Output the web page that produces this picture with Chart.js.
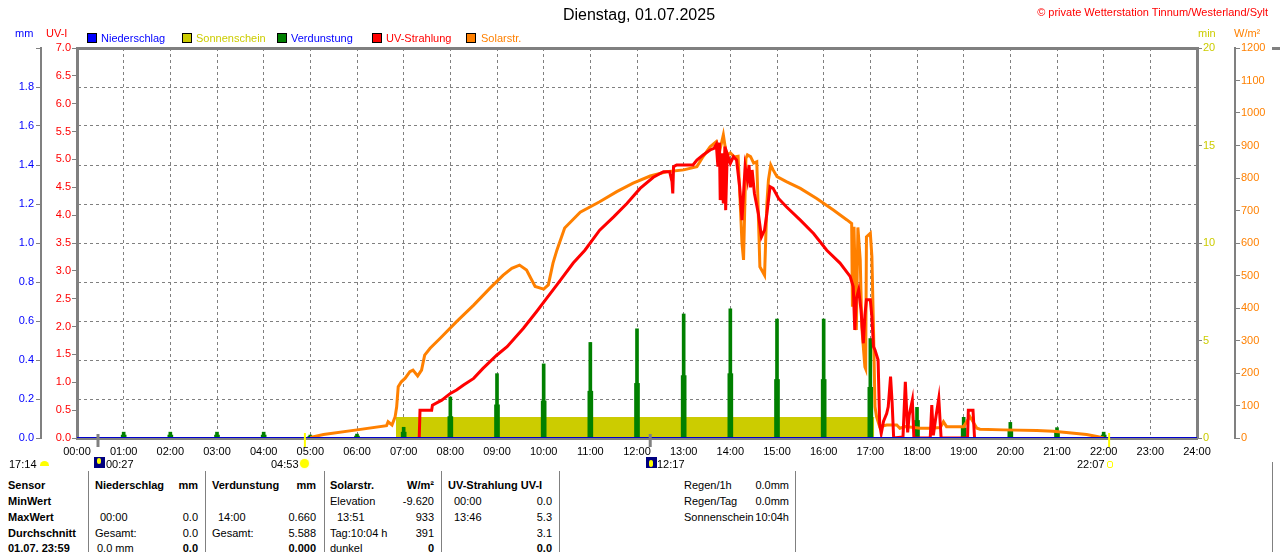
<!DOCTYPE html>
<html lang="de">
<head>
  <meta charset="UTF-8">
  <title>Dienstag, 01.07.2025</title>
  <script src="https://cdn.jsdelivr.net/npm/chart.js@4"></script>
  <style>
    body {
      margin: 0;
      background: #fff;
      font-family: "Liberation Sans", Arial, sans-serif;
      font-size: 11px;
    }
    #wrap {
      position: relative;
      width: 1280px;
      height: 552px;
      overflow: hidden;
    }
    #chart {
      position: absolute;
      left: 0;
      top: 0;
    }
    .t {
      position: absolute;
      white-space: nowrap;
      line-height: 14px;
    }
    .b { font-weight: bold; }
    .box {
      position: absolute;
      width: 8px;
      height: 8px;
      border: 1px solid #000;
    }
    .vl {
      position: absolute;
      top: 471px;
      width: 1px;
      height: 81px;
      background: #808080;
    }
  </style>
</head>
<body>
<div id="wrap">
  <canvas id="chart" width="1280" height="470"></canvas>

  <span class="t" style="left:0;width:1278px;text-align:center;top:6px;font-size:16px;line-height:18px">Dienstag, 01.07.2025</span>
  <span class="t" style="right:12px;top:5px;color:#ff0000">© private Wetterstation Tinnum/Westerland/Sylt</span>

  <span class="t" style="left:15px;top:26px;color:#0000ff">mm</span>
  <span class="t" style="left:46px;top:26px;color:#ff0000">UV-I</span>
  <span class="t" style="left:1198px;top:26px;color:#cccc00">min</span>
  <span class="t" style="left:1234px;top:26px;color:#ff8000">W/m²</span>

  <div class="box" style="left:87px;top:33px;background:#0000ff"></div>
  <span class="t" style="left:101px;top:31px;color:#0000ff">Niederschlag</span>
  <div class="box" style="left:182px;top:33px;background:#cccc00"></div>
  <span class="t" style="left:196px;top:31px;color:#cccc00">Sonnenschein</span>
  <div class="box" style="left:277px;top:33px;background:#008000"></div>
  <span class="t" style="left:291px;top:31px;color:#0000ff">Verdunstung</span>
  <div class="box" style="left:372px;top:33px;background:#ff0000"></div>
  <span class="t" style="left:386px;top:31px;color:#ff0000">UV-Strahlung</span>
  <div class="box" style="left:466px;top:33px;background:#ff8000"></div>
  <span class="t" style="left:481px;top:31px;color:#ff8000">Solarstr.</span>

  <!-- Mond / Sonne unter der Zeitachse -->
  <span class="t" style="left:9px;top:457px">17:14</span>
  <div style="position:absolute;left:40px;top:461px;width:9px;height:5px;background:#ffff00;border-radius:5px 5px 0 0"></div>
  <div style="position:absolute;left:94px;top:457px;width:11px;height:11px;background:#000080"></div>
  <div style="position:absolute;left:97px;top:458px;width:4px;height:6px;background:#ffff00;border-radius:2px"></div>
  <span class="t" style="left:106px;top:457px">00:27</span>
  <span class="t" style="left:271px;top:457px">04:53</span>
  <div style="position:absolute;left:300px;top:459px;width:9px;height:9px;background:#ffff00;border-radius:50%;box-shadow:0 0 2px #ffff80"></div>
  <div style="position:absolute;left:646px;top:457px;width:11px;height:11px;background:#000080"></div>
  <div style="position:absolute;left:649px;top:460px;width:4px;height:7px;background:#ffff00;border-radius:2px"></div>
  <span class="t" style="left:657px;top:457px">12:17</span>
  <span class="t" style="left:1077px;top:457px">22:07</span>
  <div style="position:absolute;left:1107px;top:461px;width:4px;height:5px;border:1px solid #ffff00;border-radius:2px"></div>

  <!-- Tabelle -->
  <div class="vl" style="left:88px"></div>
  <div class="vl" style="left:205px"></div>
  <div class="vl" style="left:324px"></div>
  <div class="vl" style="left:441px"></div>
  <div class="vl" style="left:559px"></div>
  <div class="vl" style="left:795px"></div>

  <span class="t b" style="left:8px;top:478px">Sensor</span>
  <span class="t b" style="left:95px;top:478px">Niederschlag</span>
  <span class="t b" style="right:1082px;top:478px">mm</span>
  <span class="t b" style="left:212px;top:478px">Verdunstung</span>
  <span class="t b" style="right:964px;top:478px">mm</span>
  <span class="t b" style="left:330px;top:478px">Solarstr.</span>
  <span class="t b" style="right:846px;top:478px">W/m²</span>
  <span class="t b" style="left:448px;top:478px">UV-Strahlung UV-I</span>
  <span class="t" style="left:684px;top:478px">Regen/1h</span>
  <span class="t" style="right:491px;top:478px">0.0mm</span>

  <span class="t b" style="left:8px;top:494px">MinWert</span>
  <span class="t" style="left:330px;top:494px">Elevation</span>
  <span class="t" style="right:846px;top:494px">-9.620</span>
  <span class="t" style="left:454px;top:494px">00:00</span>
  <span class="t" style="right:728px;top:494px">0.0</span>
  <span class="t" style="left:684px;top:494px">Regen/Tag</span>
  <span class="t" style="right:491px;top:494px">0.0mm</span>

  <span class="t b" style="left:8px;top:510px">MaxWert</span>
  <span class="t" style="left:100px;top:510px">00:00</span>
  <span class="t" style="right:1082px;top:510px">0.0</span>
  <span class="t" style="left:218px;top:510px">14:00</span>
  <span class="t" style="right:964px;top:510px">0.660</span>
  <span class="t" style="left:337px;top:510px">13:51</span>
  <span class="t" style="right:846px;top:510px">933</span>
  <span class="t" style="left:454px;top:510px">13:46</span>
  <span class="t" style="right:728px;top:510px">5.3</span>
  <span class="t" style="left:684px;top:510px">Sonnenschein</span>
  <span class="t" style="right:491px;top:510px">10:04h</span>

  <span class="t b" style="left:8px;top:526px">Durchschnitt</span>
  <span class="t" style="left:95px;top:526px">Gesamt:</span>
  <span class="t" style="right:1082px;top:526px">0.0</span>
  <span class="t" style="left:212px;top:526px">Gesamt:</span>
  <span class="t" style="right:964px;top:526px">5.588</span>
  <span class="t" style="left:330px;top:526px">Tag:10:04 h</span>
  <span class="t" style="right:846px;top:526px">391</span>
  <span class="t" style="right:728px;top:526px">3.1</span>

  <span class="t b" style="left:8px;top:541px">01.07. 23:59</span>
  <span class="t" style="left:97px;top:541px">0.0 mm</span>
  <span class="t b" style="right:1082px;top:541px">0.0</span>
  <span class="t b" style="right:964px;top:541px">0.000</span>
  <span class="t" style="left:330px;top:541px">dunkel</span>
  <span class="t b" style="right:846px;top:541px">0</span>
  <span class="t b" style="right:728px;top:541px">0.0</span>

  <!-- Rand des Nachbarbildes -->
  <div style="position:absolute;left:1272px;top:47px;width:8px;height:3px;background:#808080"></div>
  <div style="position:absolute;left:1272px;top:462px;width:1px;height:90px;background:#808080"></div>
</div>

<script>
// Zeit in Minuten seit Mitternacht
const solarT = [300, 317, 360, 398, 400, 405, 409, 411, 413, 417, 422, 428, 432, 438, 443, 447, 454, 467, 488, 510,
  531, 548, 559, 569, 578, 589, 600, 606, 612, 617, 627, 647, 672, 694, 715, 737, 758, 780, 797, 805,
  814, 822, 826, 831, 835, 840, 845, 850, 855, 857, 860, 862, 866, 870, 874, 878, 884, 887, 889, 892,
  895, 900, 912, 930, 951, 972, 990, 996, 997, 999, 1002, 1004, 1007, 1009, 1013, 1014, 1015, 1020, 1022, 1024,
  1026, 1028, 1032, 1041, 1054, 1058, 1065, 1084, 1097, 1110, 1114, 1118, 1127, 1140, 1148, 1157, 1161, 1191, 1234, 1255,
  1272, 1298, 1313, 1320];
const solarW = [2, 11, 25, 38, 50, 40, 65, 96, 158, 173, 184, 204, 209, 191, 209, 255, 276, 307, 358, 409,
  461, 501, 522, 532, 517, 466, 458, 471, 538, 578, 646, 695, 727, 758, 784, 806, 819, 825, 835, 866,
  896, 912, 880, 933, 870, 877, 865, 867, 599, 548, 860, 871, 866, 846, 850, 527, 501, 722, 794, 840,
  825, 804, 789, 768, 737, 702, 671, 660, 404, 650, 332, 648, 548, 342, 219, 213, 619, 630, 558, 342,
  96, 66, 35, 40, 40, 30, 35, 30, 30, 32, 50, 35, 35, 35, 66, 30, 27, 25, 23, 21,
  17, 11, 4, 0];

const uvT = [440, 441, 456, 457, 469, 480, 488, 497, 510, 522, 540, 553, 574, 591, 604, 617, 638, 653, 672, 690,
  707, 724, 741, 754, 762, 765, 766, 767, 771, 792, 797, 805, 814, 819, 822, 824, 826, 827, 829, 831,
  833, 834, 836, 840, 844, 848, 852, 855, 857, 859, 862, 864, 866, 868, 871, 876, 880, 884, 887, 891,
  895, 902, 912, 930, 947, 964, 981, 994, 998, 1000, 1002, 1005, 1008, 1011, 1013, 1015, 1020, 1022, 1024, 1026,
  1030, 1032, 1034, 1037, 1041, 1043, 1046, 1048, 1050, 1062, 1065, 1068, 1070, 1074, 1076, 1097, 1099, 1101, 1104, 1108,
  1111, 1145, 1146, 1152, 1154];
const uvI = [0, 0.5, 0.5, 0.59, 0.68, 0.80, 0.86, 0.95, 1.07, 1.25, 1.49, 1.64, 1.97, 2.27, 2.51, 2.75, 3.14, 3.37, 3.73, 3.97,
  4.21, 4.48, 4.68, 4.78, 4.78, 4.6, 4.39, 4.87, 4.90, 4.90, 4.99, 5.08, 5.17, 5.2, 5.27, 4.87, 5.3, 4.27, 5.11, 4.21,
  5.23, 4.09, 5.1, 4.93, 5.05, 4.99, 4.51, 3.91, 4.39, 4.87, 4.63, 4.9, 4.5, 4.81, 4.39, 4.03, 3.61, 3.73, 4.03, 4.51,
  4.48, 4.30, 4.15, 3.91, 3.67, 3.37, 3.14, 2.90, 2.72, 1.94, 2.5, 2.66, 2.30, 1.70, 2.2, 2.48, 2.48, 2.18, 1.64, 1.58,
  1.40, 0.25, 0.08, 0.3, 0.44, 0.56, 1.10, 0.64, 0, 0.02, 1.01, 0.1, 0.41, 0.68, 0, 0, 0.59, 0.05, 0.35, 0.71,
  0, 0, 0.50, 0.50, 0];

// Verdunstung je volle Stunde
const evapHour = [1, 2, 3, 4, 5, 6, 7, 8, 9, 10, 11, 12, 13, 14, 15, 16, 17, 18, 19, 20, 21, 22];
const evapMM = [0.03, 0.03, 0.03, 0.03, 0.015, 0.02, 0.055, 0.21, 0.33, 0.38, 0.49, 0.56, 0.636, 0.662, 0.61, 0.61, 0.51, 0.157, 0.106, 0.08, 0.053, 0.03];
const evapBaseMM = [0.015, 0.015, 0.015, 0.015, 0.008, 0.01, 0.03, 0.11, 0.17, 0.19, 0.24, 0.28, 0.32, 0.33, 0.30, 0.30, 0.26, 0.09, 0.05, 0.04, 0.03, 0.015];

const sunT = [410, 1025];
const sunMin = [1.05, 1.05];

const rainT = [0, 1440];
const rainMM = [0, 0];

// Mond- und Sonnenauf-/untergang
const moonT = [27, 737];
const sunEventT = [293, 1327];

const pts = (xs, ys) => xs.map((x, i) => ({ x: x, y: ys[i] }));
const gray = '#808080';

Chart.defaults.font.family = '"Liberation Sans", Arial, sans-serif';
Chart.defaults.font.size = 11;

const markers = {
  id: 'markers',
  afterDraw(chart) {
    const ctx = chart.ctx;
    const x = chart.scales.x;
    const bottom = chart.chartArea.bottom;
    ctx.save();
    moonT.forEach(t => {
      ctx.strokeStyle = gray;
      ctx.lineWidth = 3;
      ctx.beginPath();
      ctx.moveTo(x.getPixelForValue(t), bottom - 4);
      ctx.lineTo(x.getPixelForValue(t), bottom + 9);
      ctx.stroke();
    });
    sunEventT.forEach(t => {
      ctx.strokeStyle = '#ffff00';
      ctx.lineWidth = 2;
      ctx.beginPath();
      ctx.moveTo(x.getPixelForValue(t), bottom - 5);
      ctx.lineTo(x.getPixelForValue(t), bottom + 9);
      ctx.stroke();
    });
    ctx.restore();
  }
};

new Chart(document.getElementById('chart'), {
  type: 'line',
  data: {
    datasets: [
      { label: 'Niederschlag', data: pts(rainT, rainMM), yAxisID: 'yMM', borderColor: '#0000cc', borderWidth: 2, pointRadius: 0, order: 0 },
      { label: 'UV-Strahlung', data: pts(uvT, uvI), yAxisID: 'yUV', borderColor: '#ff0000', borderWidth: 3, pointRadius: 0, order: 1 },
      { label: 'Solarstr.', data: pts(solarT, solarW), yAxisID: 'ySolar', borderColor: '#ff8000', borderWidth: 3, pointRadius: 0, order: 2 },
      { type: 'bar', label: 'Verdunstung', data: pts(evapHour.map(h => h * 60), evapMM), yAxisID: 'yMM',
        backgroundColor: '#008000', barThickness: 3, grouped: false, order: 3 },
      { type: 'bar', label: 'Verdunstung ', data: pts(evapHour.map(h => h * 60), evapBaseMM), yAxisID: 'yMM',
        backgroundColor: '#008000', barThickness: 5, grouped: false, order: 4 },
      { label: 'Sonnenschein', data: pts(sunT, sunMin), yAxisID: 'ySun', borderColor: '#cccc00', borderWidth: 1,
        backgroundColor: '#cccc00', fill: 'origin', pointRadius: 0, order: 5 }
    ]
  },
  options: {
    responsive: false,
    animation: false,
    layout: { padding: { top: 48, left: 0, right: 0, bottom: 0 } },
    plugins: { legend: { display: false }, tooltip: { enabled: false } },
    scales: {
      x: {
        type: 'linear', position: 'bottom', min: 0, max: 1440, offset: false,
        afterFit: s => { s.height = 32; },
        ticks: { stepSize: 60, autoSkip: false, maxRotation: 0, padding: 7, color: '#000',
          callback: v => String(v / 60).padStart(2, '0') + ':00' },
        grid: { color: gray, lineWidth: 1, drawTicks: false, offset: false },
        border: { color: gray, width: 3, dash: [3, 3] }
      },
      xTop: {
        type: 'linear', position: 'top', min: 0, max: 1440,
        afterFit: s => { s.height = 0; },
        ticks: { display: false },
        grid: { display: false, drawTicks: false },
        border: { color: gray, width: 3 }
      },
      yMM: {
        position: 'left', weight: 1, min: 0, max: 2,
        afterFit: s => { s.width = 41; },
        ticks: { stepSize: 0.2, padding: 2, color: '#0000ff',
          callback: v => v > 1.95 ? '' : v.toFixed(1) },
        grid: { color: gray, lineWidth: 1, tickLength: 5, tickColor: gray, tickBorderDash: [] },
        border: { color: gray, width: 2, dash: [3, 3] }
      },
      yUV: {
        position: 'left', weight: 0, min: 0, max: 7,
        afterFit: s => { s.width = 36; },
        ticks: { stepSize: 0.5, padding: 1, color: '#ff0000', callback: v => v.toFixed(1) },
        grid: { drawOnChartArea: false, tickLength: 5, tickColor: gray },
        border: { color: gray, width: 3 }
      },
      ySun: {
        position: 'right', weight: 0, min: 0, max: 20,
        afterFit: s => { s.width = 38; },
        ticks: { stepSize: 5, padding: 1, color: '#cccc00', callback: v => String(v) },
        grid: { drawOnChartArea: false, tickLength: 5, tickColor: gray },
        border: { color: gray, width: 3 }
      },
      ySolar: {
        position: 'right', weight: 1, min: 0, max: 1200,
        afterFit: s => { s.width = 45; },
        ticks: { stepSize: 100, padding: 1, color: '#ff8000', callback: v => String(v) },
        grid: { drawOnChartArea: false, tickLength: 5, tickColor: gray },
        border: { color: gray, width: 2 }
      }
    }
  },
  plugins: [markers]
});
</script>
</body>
</html>
